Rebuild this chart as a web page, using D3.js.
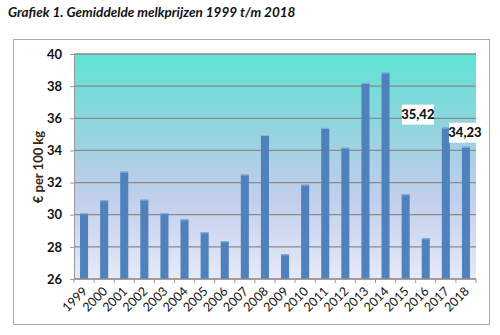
<!DOCTYPE html>
<html><head><meta charset="utf-8">
<script src="https://cdn.jsdelivr.net/npm/d3@7"></script>
<style>body{margin:0;background:#fff}svg{display:block}</style>
</head><body><svg id="c" width="500" height="335"></svg>
<script>
const years = ["1999","2000","2001","2002","2003","2004","2005","2006","2007","2008","2009","2010","2011","2012","2013","2014","2015","2016","2017","2018"];
const prices = [30.09,30.9,32.68,30.94,30.09,29.71,28.9,28.35,32.5,34.96,27.54,31.87,35.4,34.17,38.2,38.84,31.27,28.53,35.42,34.23];
const yTicks = [26,28,30,32,34,36,38,40];
const labelled = {"2017":"35,42","2018":"34,23"};

const svg = d3.select("#c");
const font = "Lato, 'Open Sans', sans-serif";
const m = {l:74, r:476, t:54, b:279};

svg.append("text").attr("x",8).attr("y",17).attr("font-family",font).attr("font-weight","bold")
  .attr("font-style","italic").attr("font-size",13.5).attr("fill","#111").text("Grafiek 1. Gemiddelde melkprijzen 1999 t/m 2018");

svg.append("rect").attr("x",13.5).attr("y",39.5).attr("width",476).attr("height",285)
  .attr("fill","#fff").attr("stroke","#aaa").attr("stroke-width",1);

const defs = svg.append("defs");
const g = defs.append("linearGradient").attr("id","bg").attr("x1",0).attr("y1",0).attr("x2",0).attr("y2",1);
[[0,"#5fe3d4"],[0.3,"#8cd6de"],[0.5,"#b0cfe6"],[0.65,"#c2cfec"],[1,"#e6eaf7"]].forEach(([o,c])=>g.append("stop").attr("offset",o).attr("stop-color",c));

const x = d3.scaleBand().domain(years).range([m.l,m.r]).paddingInner(0.6).paddingOuter(0.3);
const y = d3.scaleLinear().domain([26,40]).range([m.b,m.t]);

svg.append("rect").attr("x",m.l).attr("y",m.t).attr("width",m.r-m.l).attr("height",m.b-m.t).attr("fill","url(#bg)");

svg.append("g").selectAll("line").data(yTicks).join("line")
  .attr("x1",m.l).attr("x2",m.r).attr("y1",d=>y(d)).attr("y2",d=>y(d))
  .attr("stroke","#8a8a8a").attr("stroke-width",1.3);

svg.append("g").selectAll("rect").data(years).join("rect")
  .attr("x",d=>x(d)).attr("width",x.bandwidth())
  .attr("y",(d,i)=>y(prices[i])).attr("height",(d,i)=>m.b-y(prices[i]))
  .attr("fill","#4f81bd");
svg.append("g").selectAll("line").data(years).join("line")
  .attr("x1",d=>x(d)).attr("x2",d=>x(d)+x.bandwidth())
  .attr("y1",(d,i)=>y(prices[i])+0.5).attr("y2",(d,i)=>y(prices[i])+0.5)
  .attr("stroke","#8fb0da").attr("stroke-width",1);

const ya = svg.append("g").attr("transform",`translate(${m.l},0)`)
  .call(d3.axisLeft(y).tickValues(yTicks).tickSize(4).tickPadding(8));
ya.select(".domain").attr("stroke","#999");
ya.selectAll(".tick line").attr("stroke","#999");
ya.selectAll("text").attr("font-family",font).attr("font-weight","bold").attr("font-size",13).attr("fill","#111");

const xb = svg.append("g").attr("transform",`translate(0,${m.b})`);
xb.append("line").attr("x1",m.l).attr("x2",m.r).attr("stroke","#999");
xb.selectAll(".tk").data(d3.range(years.length+1)).join("line").attr("class","tk")
  .attr("x1",i=>m.l+i*(m.r-m.l)/years.length).attr("x2",i=>m.l+i*(m.r-m.l)/years.length)
  .attr("y1",0).attr("y2",4).attr("stroke","#999");
xb.selectAll("text").data(years).join("text")
  .attr("transform",d=>`translate(${x(d)+x.bandwidth()/2+4},${13}) rotate(-45)`)
  .attr("text-anchor","end").attr("font-family",font).attr("font-size",12.5).attr("fill","#111").text(d=>d);

svg.append("text").attr("transform","translate(43,167) rotate(-90)").attr("text-anchor","middle")
  .attr("font-family",font).attr("font-weight","bold").attr("font-size",13).attr("fill","#3b2410").text("€ per 100 kg");

const offs = {"2017":[-28,-13],"2018":[-1,-14]};
years.forEach((d,i)=>{
  if(!labelled[d]) return;
  const cx = x(d)+x.bandwidth()/2+offs[d][0], cy = y(prices[i])+offs[d][1];
  svg.append("rect").attr("x",cx-16).attr("y",cy-10).attr("width",32).attr("height",20).attr("fill","#fff");
  svg.append("text").attr("x",cx).attr("y",cy+4.5).attr("text-anchor","middle").attr("font-family",font)
    .attr("font-weight","900").attr("font-size",13).attr("fill","#111").text(labelled[d]);
});
</script></body></html>
